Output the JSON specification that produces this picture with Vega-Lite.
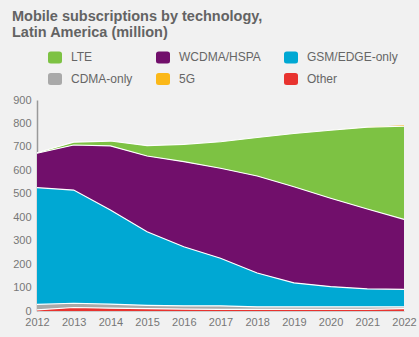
{
  "$schema": "https://vega.github.io/schema/vega-lite/v6.json",
  "width": 367,
  "height": 211,
  "autosize": {"type": "none"},
  "padding": {"left": 37, "top": 100, "right": 15, "bottom": 26},
  "background": "#f1f1f1",
  "config": {
    "view": {"stroke": null},
    "font": "Liberation Sans"
  },
  "title": {
    "text": ["Mobile subscriptions by technology,", "Latin America (million)"],
    "anchor": "start",
    "frame": "group",
    "fontSize": 14.5,
    "fontWeight": "bold",
    "color": "#636363",
    "lineHeight": 16,
    "dx": -25,
    "offset": 10
  },
  "data": {
    "values": [
      {"year": 2012, "tech": "Other", "value": 5},
      {"year": 2013, "tech": "Other", "value": 15},
      {"year": 2014, "tech": "Other", "value": 12},
      {"year": 2015, "tech": "Other", "value": 10},
      {"year": 2016, "tech": "Other", "value": 8},
      {"year": 2017, "tech": "Other", "value": 7},
      {"year": 2018, "tech": "Other", "value": 7},
      {"year": 2019, "tech": "Other", "value": 7},
      {"year": 2020, "tech": "Other", "value": 7},
      {"year": 2021, "tech": "Other", "value": 7},
      {"year": 2022, "tech": "Other", "value": 10},
      {"year": 2012, "tech": "CDMA-only", "value": 23},
      {"year": 2013, "tech": "CDMA-only", "value": 18},
      {"year": 2014, "tech": "CDMA-only", "value": 17},
      {"year": 2015, "tech": "CDMA-only", "value": 14},
      {"year": 2016, "tech": "CDMA-only", "value": 14},
      {"year": 2017, "tech": "CDMA-only", "value": 15},
      {"year": 2018, "tech": "CDMA-only", "value": 11},
      {"year": 2019, "tech": "CDMA-only", "value": 11},
      {"year": 2020, "tech": "CDMA-only", "value": 11},
      {"year": 2021, "tech": "CDMA-only", "value": 11},
      {"year": 2022, "tech": "CDMA-only", "value": 8},
      {"year": 2012, "tech": "GSM/EDGE-only", "value": 498},
      {"year": 2013, "tech": "GSM/EDGE-only", "value": 483},
      {"year": 2014, "tech": "GSM/EDGE-only", "value": 402},
      {"year": 2015, "tech": "GSM/EDGE-only", "value": 314},
      {"year": 2016, "tech": "GSM/EDGE-only", "value": 252},
      {"year": 2017, "tech": "GSM/EDGE-only", "value": 203},
      {"year": 2018, "tech": "GSM/EDGE-only", "value": 144},
      {"year": 2019, "tech": "GSM/EDGE-only", "value": 102},
      {"year": 2020, "tech": "GSM/EDGE-only", "value": 86},
      {"year": 2021, "tech": "GSM/EDGE-only", "value": 76},
      {"year": 2022, "tech": "GSM/EDGE-only", "value": 74},
      {"year": 2012, "tech": "WCDMA/HSPA", "value": 147},
      {"year": 2013, "tech": "WCDMA/HSPA", "value": 192},
      {"year": 2014, "tech": "WCDMA/HSPA", "value": 273},
      {"year": 2015, "tech": "WCDMA/HSPA", "value": 323},
      {"year": 2016, "tech": "WCDMA/HSPA", "value": 363},
      {"year": 2017, "tech": "WCDMA/HSPA", "value": 384},
      {"year": 2018, "tech": "WCDMA/HSPA", "value": 414},
      {"year": 2019, "tech": "WCDMA/HSPA", "value": 410},
      {"year": 2020, "tech": "WCDMA/HSPA", "value": 377},
      {"year": 2021, "tech": "WCDMA/HSPA", "value": 341},
      {"year": 2022, "tech": "WCDMA/HSPA", "value": 299},
      {"year": 2012, "tech": "LTE", "value": 2},
      {"year": 2013, "tech": "LTE", "value": 12},
      {"year": 2014, "tech": "LTE", "value": 21},
      {"year": 2015, "tech": "LTE", "value": 44},
      {"year": 2016, "tech": "LTE", "value": 74},
      {"year": 2017, "tech": "LTE", "value": 113},
      {"year": 2018, "tech": "LTE", "value": 164},
      {"year": 2019, "tech": "LTE", "value": 227},
      {"year": 2020, "tech": "LTE", "value": 290},
      {"year": 2021, "tech": "LTE", "value": 349},
      {"year": 2022, "tech": "LTE", "value": 397},
      {"year": 2012, "tech": "5G", "value": 0},
      {"year": 2013, "tech": "5G", "value": 0},
      {"year": 2014, "tech": "5G", "value": 0},
      {"year": 2015, "tech": "5G", "value": 0},
      {"year": 2016, "tech": "5G", "value": 0},
      {"year": 2017, "tech": "5G", "value": 0},
      {"year": 2018, "tech": "5G", "value": 0},
      {"year": 2019, "tech": "5G", "value": 0},
      {"year": 2020, "tech": "5G", "value": 0},
      {"year": 2021, "tech": "5G", "value": 1},
      {"year": 2022, "tech": "5G", "value": 4}
    ]
  },
  "transform": [
    {"calculate": "indexof(['Other','CDMA-only','GSM/EDGE-only','WCDMA/HSPA','LTE','5G'], datum.tech)", "as": "rank"},
    {"stack": "value", "groupby": ["year"], "sort": [{"field": "rank", "order": "ascending"}], "as": ["y0", "y1"]}
  ],
  "encoding": {
    "x": {
      "field": "year",
      "type": "quantitative",
      "scale": {"domain": [2012, 2022], "nice": false, "zero": false},
      "axis": {
        "title": null,
        "values": [2012, 2013, 2014, 2015, 2016, 2017, 2018, 2019, 2020, 2021, 2022],
        "format": "d",
        "ticks": false,
        "domain": true,
        "domainColor": "#cccccc",
        "grid": false,
        "labelFont": "Liberation Sans",
        "labelFontSize": 11,
        "labelColor": "#777777",
        "labelPadding": 5,
        "labelOverlap": false,
        "labelFlush": false,
        "labelBound": false
      }
    },
    "y": {
      "field": "y1",
      "type": "quantitative",
      "scale": {"domain": [0, 900], "nice": false},
      "axis": {
        "title": null,
        "values": [0, 100, 200, 300, 400, 500, 600, 700, 800, 900],
        "ticks": false,
        "grid": false,
        "domain": true,
        "domainColor": "#9a9a9a",
        "domainWidth": 1.5,
        "labelFont": "Liberation Sans",
        "labelFontSize": 11,
        "labelColor": "#777777",
        "labelPadding": 6,
        "labelOverlap": false,
        "labelFlush": false,
        "labelBound": false
      }
    }
  },
  "layer": [
    {
      "mark": {"type": "area", "opacity": 1},
      "encoding": {
        "y2": {"field": "y0"},
        "color": {
          "field": "tech",
          "type": "nominal",
          "scale": {
            "domain": ["LTE", "WCDMA/HSPA", "GSM/EDGE-only", "CDMA-only", "5G", "Other"],
            "range": ["#7dc243", "#710f6b", "#00a8d3", "#a9a9a9", "#fbb818", "#e8332f"]
          },
          "legend": {
            "title": null,
            "orient": "none",
            "legendX": 11,
            "legendY": -50,
            "direction": "horizontal",
            "columns": 3,
            "columnPadding": 23,
            "rowPadding": 8,
            "padding": 0,
            "symbolType": "M-1,-0.5 Q-1,-0.86 -0.6,-0.86 L0.6,-0.86 Q1,-0.86 1,-0.5 L1,0.5 Q1,0.86 0.6,0.86 L-0.6,0.86 Q-1,0.86 -1,0.5 Z",
            "symbolSize": 196,
            "symbolStrokeWidth": 0,
            "symbolOpacity": 1,
            "labelFont": "Liberation Sans",
            "labelFontSize": 12,
            "labelColor": "#666666",
            "labelOffset": 9
          }
        },
        "detail": {"field": "tech"}
      }
    },
    {
      "mark": {"type": "line", "color": "#ffffff", "strokeWidth": 1.2},
      "transform": [{"filter": "datum.tech != '5G'"}],
      "encoding": {
        "detail": {"field": "tech"}
      }
    }
  ]
}
